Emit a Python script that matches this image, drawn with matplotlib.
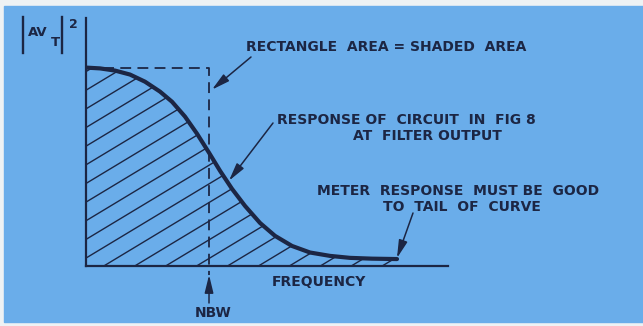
import numpy as np
import matplotlib
matplotlib.use('Agg')
import matplotlib.pyplot as plt
from matplotlib.patches import Polygon, Rectangle

# response of the filter output, |AVt|^2 vs frequency (arbitrary units)
freq = [0.0, 0.387, 0.801, 1.215, 1.630, 2.044, 2.376, 2.735, 3.066, 3.398,
        3.702, 4.033, 4.392, 4.807, 5.221, 5.691, 6.188, 6.740, 7.293,
        7.901, 8.591]
resp = [1.0, 0.996, 0.985, 0.965, 0.929, 0.879, 0.828, 0.753, 0.667, 0.571,
        0.480, 0.389, 0.303, 0.217, 0.152, 0.101, 0.068, 0.051, 0.041,
        0.037, 0.035]
nbw = 3.40          # noise bandwidth (rectangle width)
peak = 1.0          # rectangle height

ink = '#1c2644'
blue = '#6aadea'
W, H = 643, 326

fig = plt.figure(figsize=(W / 100, H / 100), dpi=100, facecolor='#eef2f4')

# overlay in pixel units for the panel and labels
ov = fig.add_axes([0, 0, 1, 1], facecolor='none')
ov.set_xlim(0, W)
ov.set_ylim(H, 0)
ov.axis('off')
ov.add_patch(Rectangle((4, 6), W - 4, H - 10, color=blue, zorder=0))

ax = fig.add_axes([86 / W, (H - 266) / H, (448 - 86) / W, (266 - 18) / H],
                  facecolor='none')
ax.set_xlim(0, 10)
ax.set_ylim(0, 1.25)
for s in ['top', 'right']:
    ax.spines[s].set_visible(False)
for s in ['left', 'bottom']:
    ax.spines[s].set_color(ink)
    ax.spines[s].set_linewidth(1.6)
ax.set_xticks([])
ax.set_yticks([])

# shaded area under the curve
poly = Polygon(list(zip(freq, resp)) + [(freq[-1], 0), (0, 0)],
               closed=True, fill=False, edgecolor='none')
ax.add_patch(poly)
slope = 0.11
gap = 0.094
xs = np.array([0, 10])
for k in range(-12, 14):
    y0 = 0.040 + k * gap
    ln, = ax.plot(xs, y0 + slope * xs, color=ink, lw=1.0)
    ln.set_clip_path(poly)

# equivalent rectangle
ax.plot([0, nbw, nbw], [peak, peak, -0.045], color=ink, lw=1.3,
        ls=(0, (6, 3.5)), clip_on=False)

ax.plot(freq, resp, color=ink, lw=3.0, solid_capstyle='round',
        solid_joinstyle='round', zorder=5)

# labels
font = dict(family='DejaVu Sans', weight='bold', color=ink, fontsize=10,
            va='center', ha='left')
ov.text(246, 47, 'RECTANGLE  AREA = SHADED  AREA', **font)
ov.text(277, 120, 'RESPONSE OF  CIRCUIT  IN  FIG 8', **font)
ov.text(353, 136, 'AT  FILTER OUTPUT', **font)
ov.text(317, 191, 'METER  RESPONSE  MUST BE  GOOD', **font)
ov.text(383, 207, 'TO  TAIL  OF  CURVE', **font)
ov.text(272, 282, 'FREQUENCY', **font)
ov.text(213, 313, 'NBW', **dict(font, ha='center'))

# |AVt|^2 axis label
ov.plot([23, 23], [17, 53], color=ink, lw=1.7)
ov.plot([62, 62], [17, 53], color=ink, lw=1.7)
ov.text(28, 33, 'AV', **dict(font, fontsize=9.5))
ov.text(51, 43, 'T', **dict(font, fontsize=9.5))
ov.text(69, 24, '2', **dict(font, fontsize=9))

arrow = dict(arrowstyle='-|>,head_length=0.9,head_width=0.22', color=ink,
             lw=1.1, shrinkA=0, shrinkB=0, mutation_scale=12)
ax.annotate('', xy=(3.48, 0.889), xytext=(251, 57), textcoords=ov.transData,
            arrowprops=arrow)
ax.annotate('', xy=(3.95, 0.43), xytext=(273, 123), textcoords=ov.transData,
            arrowprops=arrow)
ax.annotate('', xy=(8.59, 0.04), xytext=(413, 213), textcoords=ov.transData,
            arrowprops=arrow)
ax.annotate('', xy=(nbw, -0.045), xytext=(209, 303), textcoords=ov.transData,
            arrowprops=arrow, annotation_clip=False)

fig.savefig('out.png', dpi=100, facecolor=fig.get_facecolor())
